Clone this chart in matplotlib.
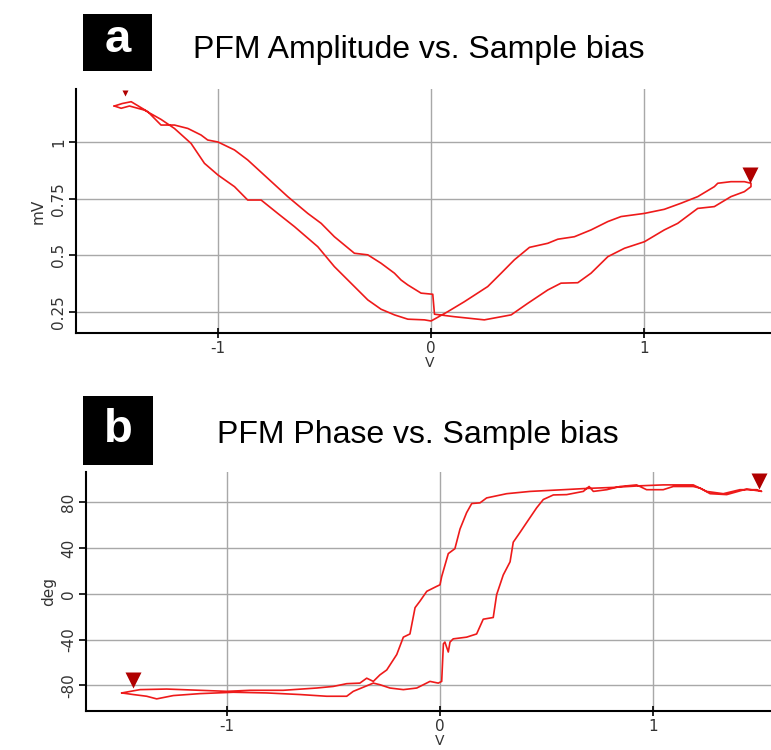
import matplotlib
matplotlib.use("Agg")
import matplotlib.pyplot as plt
from matplotlib.patches import Rectangle

plt.rcParams['axes.unicode_minus'] = False

# --- amplitude loop (panel a) ---
amp_fwd_v = [-1.487, -1.455, -1.416, -1.346, -1.268, -1.205, -1.127, -1.064, -1.0, -0.923,
             -0.861, -0.798, -0.720, -0.642, -0.532, -0.454, -0.376, -0.297, -0.235, -0.172,
             -0.109, -0.031, 0.0, 0.078, 0.156, 0.266, 0.329, 0.391, 0.462, 0.548,
             0.595, 0.673, 0.751, 0.830, 0.892, 1.002, 1.095, 1.174, 1.252, 1.330,
             1.346, 1.408, 1.471, 1.502]
amp_fwd_y = [1.159, 1.149, 1.159, 1.141, 1.100, 1.060, 0.994, 0.906, 0.854, 0.803,
             0.744, 0.744, 0.685, 0.627, 0.538, 0.450, 0.377, 0.303, 0.262, 0.237,
             0.218, 0.215, 0.210, 0.251, 0.295, 0.362, 0.421, 0.480, 0.535, 0.553,
             0.571, 0.582, 0.612, 0.649, 0.671, 0.685, 0.703, 0.730, 0.759, 0.803,
             0.818, 0.825, 0.825, 0.818]
amp_rev_v = [1.502, 1.471, 1.408, 1.330, 1.252, 1.158, 1.095, 1.002, 0.908, 0.830,
             0.751, 0.689, 0.610, 0.548, 0.454, 0.376, 0.250, 0.109, 0.016, 0.008,
             -0.047, -0.109, -0.141, -0.172, -0.235, -0.297, -0.360, -0.454, -0.516, -0.579,
             -0.673, -0.767, -0.861, -0.923, -1.0, -1.049, -1.080, -1.142, -1.205, -1.268,
             -1.330, -1.408, -1.450, -1.487]
amp_rev_y = [0.803, 0.781, 0.759, 0.715, 0.707, 0.641, 0.612, 0.560, 0.531, 0.494,
             0.421, 0.379, 0.377, 0.347, 0.288, 0.237, 0.215, 0.229, 0.240, 0.328,
             0.333, 0.369, 0.391, 0.421, 0.465, 0.502, 0.509, 0.582, 0.641, 0.685,
             0.759, 0.840, 0.921, 0.965, 1.0, 1.009, 1.031, 1.060, 1.075, 1.075,
             1.134, 1.178, 1.170, 1.159]

# --- phase loop (panel b) ---
ph_fwd_v = [-1.494, -1.408, -1.283, -1.127, -1.001, -0.892, -0.736, -0.579, -0.501, -0.438,
            -0.376, -0.344, -0.313, -0.282, -0.250, -0.203, -0.172, -0.141, -0.117, -0.094,
            -0.062, -0.016, 0.0, 0.008, 0.039, 0.070, 0.094, 0.125, 0.149, 0.188,
            0.219, 0.313, 0.423, 0.579, 0.689, 0.814, 0.939, 1.048, 1.189, 1.252,
            1.330, 1.408, 1.487, 1.510]
ph_fwd_y = [-86.6, -83.7, -83.2, -84.3, -85.2, -84.3, -84.3, -82.3, -80.9, -78.5,
            -78.0, -73.7, -76.5, -70.8, -66.5, -53.0, -37.8, -35.0, -12.0, -6.3,
            2.3, 6.6, 8.0, 15.2, 35.3, 39.6, 56.8, 71.1, 79.1, 79.7,
            84.0, 87.7, 89.7, 91.2, 92.3, 93.2, 94.6, 95.4, 95.4, 89.7,
            87.7, 91.2, 91.2, 89.7]
ph_rev_v = [1.510, 1.440, 1.346, 1.268, 1.221, 1.189, 1.095, 1.048, 0.970, 0.923,
            0.845, 0.783, 0.720, 0.700, 0.673, 0.595, 0.532, 0.485, 0.454, 0.407,
            0.376, 0.344, 0.329, 0.297, 0.266, 0.250, 0.203, 0.172, 0.125, 0.062,
            0.047, 0.039, 0.023, 0.016, 0.008, -0.008, -0.047, -0.078, -0.109, -0.172,
            -0.235, -0.282, -0.313, -0.407, -0.438, -0.532, -0.657, -0.814, -0.970, -1.127,
            -1.252, -1.330, -1.377, -1.440, -1.494]
ph_rev_y = [89.7, 91.8, 86.9, 87.7, 92.6, 94.0, 94.0, 91.2, 91.2, 95.4,
            94.0, 91.2, 89.7, 94.0, 89.7, 86.9, 86.6, 82.6, 75.4, 62.5,
            53.9, 45.3, 28.1, 16.6, -0.6, -20.6, -22.1, -35.0, -37.8, -39.3,
            -42.1, -50.8, -42.1, -43.6, -76.5, -78.0, -76.5, -79.4, -82.3, -83.7,
            -82.3, -79.4, -78.0, -85.2, -89.5, -89.5, -88.0, -86.6, -86.0, -87.2,
            -88.9, -91.8, -89.5, -88.0, -86.6]

# sweep markers
amp_mark_v = [-1.437, 1.499]
amp_mark_y = [1.216, 0.854]
ph_mark_v = [-1.443, 1.499]
ph_mark_y = [-75.1, 99.0]

amp_ticks = [0.25, 0.5, 0.75, 1]
amp_ticklabels = ["0.25", "0.5", "0.75", "1"]
ph_ticks = [-80, -40, 0, 40, 80]
ph_ticklabels = ["-80", "-40", "0", "40", "80"]
v_ticks = [-1, 0, 1]
v_ticklabels = ["-1", "0", "1"]

line_col = "#ee1a1a"
mark_col = "#b00000"
grid_col = "#a8a8a8"
txt_col = "#333333"

fig = plt.figure(figsize=(7.71, 7.5), dpi=100)
ax_a = fig.add_axes([0.0986, 0.556, 0.9014, 0.3253])
ax_b = fig.add_axes([0.1115, 0.052, 0.8885, 0.3187])


def style(ax, yticks, ylabels, ylabel, xlab_x, xlab_y):
    ax.set_xticks(v_ticks)
    ax.set_xticklabels(v_ticklabels)
    ax.set_yticks(yticks)
    ax.set_yticklabels(ylabels, rotation=90, va="center")
    ax.grid(True, color=grid_col, lw=1)
    ax.set_axisbelow(True)
    for s in ["top", "right"]:
        ax.spines[s].set_visible(False)
    for s in ["left", "bottom"]:
        ax.spines[s].set_linewidth(1.5)
    ax.tick_params(axis="y", direction="out", length=5, width=1.2,
                   labelsize=11, labelcolor=txt_col, pad=2)
    ax.tick_params(axis="x", direction="inout", length=7, width=1.2,
                   labelsize=11, labelcolor=txt_col, pad=2)
    ax.set_xlabel("V", fontsize=10, color=txt_col)
    ax.xaxis.set_label_coords(xlab_x, xlab_y)
    ax.set_ylabel(ylabel, fontsize=11, color=txt_col, labelpad=4)


ax_a.plot(amp_fwd_v + amp_rev_v, amp_fwd_y + amp_rev_y, color=line_col, lw=1.2)
ax_a.plot(amp_mark_v[0], amp_mark_y[0], "v", color=mark_col, ms=5, mec="none")
ax_a.plot(amp_mark_v[1], amp_mark_y[1], "v", color=mark_col, ms=12, mec="none")
ax_a.set_xlim(-1.667, 1.596)
ax_a.set_ylim(0.157, 1.234)
style(ax_a, amp_ticks, amp_ticklabels, "mV", 0.509, -0.096)

ax_b.plot(ph_fwd_v + ph_rev_v, ph_fwd_y + ph_rev_y, color=line_col, lw=1.2)
ax_b.plot(ph_mark_v, ph_mark_y, "v", color=mark_col, ms=12, mec="none")
ax_b.set_xlim(-1.662, 1.554)
ax_b.set_ylim(-102.4, 106.7)
style(ax_b, ph_ticks, ph_ticklabels, "deg", 0.517, -0.098)

# panel badges and titles
fig.add_artist(Rectangle((0.1077, 0.9053), 0.0895, 0.076, transform=fig.transFigure,
                         facecolor="black", edgecolor="none"))
fig.text(0.1524, 0.946, "a", color="white", fontsize=34, fontweight="bold",
         family="Liberation Sans", ha="center", va="center")
fig.text(0.5435, 0.933, "PFM Amplitude vs. Sample bias", fontsize=23,
         family="Liberation Sans", ha="center", va="center")

fig.add_artist(Rectangle((0.1077, 0.38), 0.0908, 0.092, transform=fig.transFigure,
                         facecolor="black", edgecolor="none"))
fig.text(0.1531, 0.426, "b", color="white", fontsize=34, fontweight="bold",
         family="Liberation Sans", ha="center", va="center")
fig.text(0.542, 0.42, "PFM Phase vs. Sample bias", fontsize=23,
         family="Liberation Sans", ha="center", va="center")

fig.savefig("out.png", dpi=100)
